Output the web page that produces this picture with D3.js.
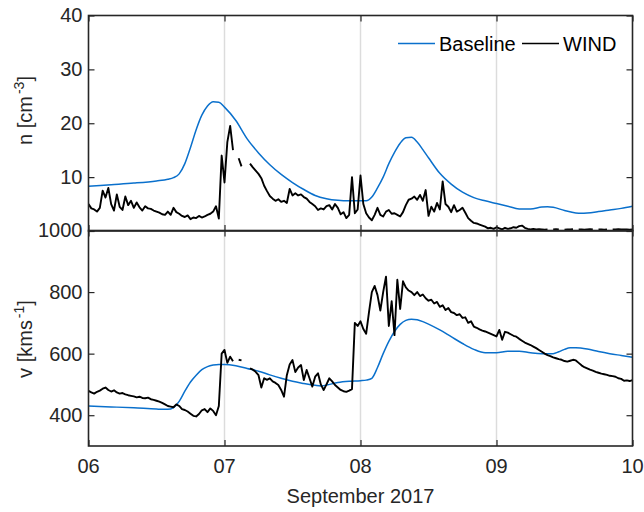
<!DOCTYPE html>
<html><head><meta charset="utf-8">
<script src="https://cdn.jsdelivr.net/npm/d3@7"></script>
<style>
body{margin:0;background:#fff}
text{font-family:"Liberation Sans",Arial,Helvetica,sans-serif}
</style>
</head><body>
<svg id="c" width="644" height="512"></svg>
<script>
// ---- tick labels / categories ----
const dayHours = [0, 24, 48, 72, 96];
const dayLabels = ["06", "07", "08", "09", "10"];
const nTicks = [0, 10, 20, 30, 40];
const vTicks = [400, 600, 800, 1000];
const xTitle = "September 2017";
const seriesNames = ["Baseline", "WIND"];

// ---- Baseline model (hours since 6 Sep 00:00) ----
const baseNHours = [0,4,8,12,14,15,16,17,18,19,20,21,22,23,24,26,28,30,32,34,36,38,40,42,44,46,48,49,50,51,52,53,54,55,56,57,58,59,60,62,64,66,68,70,72,74,76,78,80,81,82,84,86,87,88,90,92,94,96];
const baseN = [8.3,8.6,8.9,9.3,9.6,9.9,10.6,12.5,15.5,18.8,21.5,23.2,24.0,23.9,23.0,20.5,17.1,14.5,12.3,10.5,9.0,7.7,6.6,6.0,5.7,5.6,5.6,5.6,6.3,8.0,10.0,12.5,14.6,16.3,17.3,17.4,16.5,15.1,13.6,10.7,8.7,7.2,6.2,5.6,5.1,4.6,4.1,4.1,4.45,4.5,4.4,3.8,3.35,3.3,3.35,3.6,3.9,4.2,4.6];

const baseVHours = [0,4,8,12,14,15,16,17,18,19,20,21,22,23,24,26,28,30,32,34,36,38,40,41,42,44,46,48,49,50,51,52,53,54,55,56,57,58,59,60,62,64,66,68,70,72,74,76,78,80,82,83,84,85,86,88,90,92,94,96];
const baseV = [430,427,424,420,419,425,445,478,508,530,548,558,563,565,565,561,552,543,531,520,510,503,497,495,498,506,510,512,514,520,555,600,640,672,695,708,712,710,704,696,677,655,633,614,603,603,608,608,603,600,600,606,614,619,619,615,607,600,594,588];

// ---- WIND observations, one sample every 0.5 h from 6 Sep 00:00 ----
const windStepHours = 0.5;
const windN = [
 5.0,4.2,4.0,3.6,4.3,7.5,6.2,8.0,5.0,3.8,
 6.8,4.5,3.9,6.4,4.8,5.6,4.3,5.3,4.4,3.8,
 4.6,4.2,4.1,3.8,3.6,3.4,3.1,3.0,3.6,3.0,
 4.3,3.5,3.2,2.8,2.6,2.9,2.2,2.5,2.4,2.8,
 2.5,2.7,3.0,3.2,3.6,4.6,2.3,14.0,9.0,16.5,
 19.5,15.0,null,13.5,12.0,null,null,12.5,11.8,11.2,
 10.6,9.8,8.4,7.4,6.5,6.0,5.6,5.9,5.4,5.6,
 5.2,7.8,6.6,7.0,6.6,6.8,6.3,6.0,5.4,5.0,
 4.6,3.9,4.2,4.0,4.6,4.8,4.0,5.0,4.3,3.1,
 3.5,2.4,3.0,10.0,3.3,4.0,10.3,5.0,3.3,2.5,
 2.0,3.0,4.3,3.0,2.7,3.6,3.9,3.2,3.3,3.0,
 2.7,3.5,4.8,5.8,6.0,6.4,5.8,6.7,5.6,7.6,
 2.8,4.5,3.6,5.2,4.0,9.2,5.0,4.5,3.5,4.8,
 3.6,3.9,4.3,3.4,2.4,1.9,1.5,1.4,1.2,1.0,
 0.8,0.5,0.6,0.4,0.7,0.5,0.3,0.6,0.4,0.5,
 0.7,0.6,0.9,1.0,0.6,0.4,0.3,0.4,0.3,0.35,
 0.3,0.25,0.3,null,0.3,0.35,0.3,null,0.25,0.3,
 0.3,0.35,null,0.3,0.3,0.25,0.3,0.35,0.3,null,
 0.3,0.3,0.25,0.3,null,0.3,0.3,0.35,0.3,0.3,
 0.3,0.25,0.3
];
const windV = [
 479,474,470,476,480,486,490,482,477,481,
 474,470,472,468,465,463,461,458,460,456,
 455,457,452,450,447,444,440,435,430,428,
 426,435,430,420,417,412,405,398,396,404,
 416,420,410,422,414,400,430,600,612,570,
 590,575,null,580,578,null,null,552,548,541,
 530,490,520,515,520,510,505,498,482,460,
 530,565,579,540,555,563,514,547,520,493,
 525,536,500,482,500,520,510,498,490,482,
 478,476,480,485,700,690,705,680,665,735,
 800,820,790,740,800,850,690,770,660,840,
 745,835,815,805,800,790,800,787,792,780,
 772,775,763,768,752,757,742,748,735,732,
 725,728,716,718,700,705,688,684,679,675,
 672,668,664,660,656,677,645,671,668,663,
 658,655,648,642,636,632,628,623,618,612,
 606,600,595,592,588,585,582,580,576,574,
 577,580,578,570,562,556,552,548,545,541,
 538,535,533,531,528,527,525,520,518,512,
 513,511,514
];

// ---- drawing ----
const L = 88.5, R = 632.5, T1 = 15.5, B1 = 231, T2 = 230.5, B2 = 446;
const axisColor = "#262626", blue = "#0a70cc", gridColor = "#dcdcdc";
const FS = 20;

const svg = d3.select("#c");
const x = d3.scaleLinear().domain([0, 96]).range([L, R]);
const yN = d3.scaleLinear().domain([0, 40]).range([B1, T1]);
const yV = d3.scaleLinear().domain([300, 1000]).range([B2, T2]);

const windPts = (arr) => arr.map((v, i) => ({h: i * windStepHours, v}));

function grid(top, bottom) {
  svg.append("g").selectAll("line").data(dayHours.slice(1, -1)).join("line")
    .attr("x1", d => x(d)).attr("x2", d => x(d))
    .attr("y1", top).attr("y2", bottom)
    .attr("stroke", gridColor).attr("stroke-width", 1.5);
}

function frame(y, top, bottom, ticks, labelFn) {
  const g = svg.append("g");
  const styleAxis = sel => {
    sel.select(".domain").remove();
    sel.selectAll(".tick line").attr("stroke", axisColor).attr("stroke-width", 1.2);
    sel.selectAll("text").attr("fill", axisColor).style("font-size", FS + "px")
      .style("font-family", '"Liberation Sans",Arial,Helvetica,sans-serif');
  };
  g.append("g").attr("transform", `translate(${L},0)`)
    .call(d3.axisLeft(y).tickValues(ticks).tickSizeInner(-6).tickSizeOuter(0).tickPadding(6).tickFormat(labelFn))
    .call(styleAxis);
  g.append("g").attr("transform", `translate(${R},0)`)
    .call(d3.axisRight(y).tickValues(ticks).tickSizeInner(-6).tickSizeOuter(0).tickFormat(""))
    .call(styleAxis);
  g.append("g").attr("transform", `translate(0,${top})`)
    .call(d3.axisTop(x).tickValues(dayHours).tickSizeInner(-6).tickSizeOuter(0).tickFormat(""))
    .call(styleAxis);
  g.append("g").attr("transform", `translate(0,${bottom})`)
    .call(d3.axisBottom(x).tickValues(dayHours).tickSizeInner(-6).tickSizeOuter(0).tickFormat(""))
    .call(styleAxis);
  g.append("rect").attr("x", L).attr("y", top).attr("width", R - L).attr("height", bottom - top)
    .attr("fill", "none").attr("stroke", axisColor).attr("stroke-width", 1.6);
  return g;
}

grid(T1, B1);
grid(T2, B2);

const defs = svg.append("defs");
defs.append("clipPath").attr("id", "clipTop").append("rect").attr("x", L).attr("y", T1).attr("width", R - L).attr("height", B1 - T1);
defs.append("clipPath").attr("id", "clipBot").append("rect").attr("x", L).attr("y", T2).attr("width", R - L).attr("height", B2 - T2);

const lineBaseN = d3.line().x(d => x(d.h)).y(d => yN(d.v)).curve(d3.curveMonotoneX);
const lineBaseV = d3.line().x(d => x(d.h)).y(d => yV(d.v)).curve(d3.curveMonotoneX);
const lineWindN = d3.line().defined(d => d.v != null).x(d => x(d.h)).y(d => yN(d.v));
const lineWindV = d3.line().defined(d => d.v != null).x(d => x(d.h)).y(d => yV(d.v));

const gTop = svg.append("g").attr("clip-path", "url(#clipTop)");
gTop.append("path").datum(baseNHours.map((h, i) => ({h, v: baseN[i]})))
  .attr("d", lineBaseN).attr("fill", "none").attr("stroke", blue).attr("stroke-width", 1.5);
gTop.append("path").datum(windPts(windN))
  .attr("d", lineWindN).attr("fill", "none").attr("stroke", "#000").attr("stroke-width", 1.9)
  .attr("stroke-linejoin", "round");

const gBot = svg.append("g").attr("clip-path", "url(#clipBot)");
gBot.append("path").datum(baseVHours.map((h, i) => ({h, v: baseV[i]})))
  .attr("d", lineBaseV).attr("fill", "none").attr("stroke", blue).attr("stroke-width", 1.5);
gBot.append("path").datum(windPts(windV))
  .attr("d", lineWindV).attr("fill", "none").attr("stroke", "#000").attr("stroke-width", 1.9)
  .attr("stroke-linejoin", "round");

frame(yN, T1, B1, nTicks, d => d === 0 ? "" : d);
frame(yV, T2, B2, vTicks, d => d);

svg.append("g").selectAll("text").data(dayHours).join("text")
  .attr("x", d => x(d)).attr("y", 473).attr("text-anchor", "middle")
  .attr("fill", axisColor).style("font-size", FS + "px")
  .text((d, i) => dayLabels[i]);

svg.append("text").attr("x", (L + R) / 2).attr("y", 503).attr("text-anchor", "middle")
  .attr("fill", axisColor).style("font-size", FS + "px").text(xTitle);

function yTitle(cx, cy, pre, sup, post) {
  const t = svg.append("text").attr("transform", `translate(${cx},${cy}) rotate(-90)`)
    .attr("text-anchor", "middle").attr("fill", axisColor).style("font-size", FS + "px");
  t.append("tspan").text(pre);
  t.append("tspan").attr("dx", 2).attr("dy", -8).style("font-size", "14px").text(sup);
  t.append("tspan").attr("dy", 8).text(post);
}
yTitle(32, 110.5, "n [cm", "-3", "]");
yTitle(32, 339, "v [kms", "-1", "]");

const legend = svg.append("g");
const legItems = [
  {name: seriesNames[0], color: blue, x0: 398},
  {name: seriesNames[1], color: "#000", x0: 522}
];
legItems.forEach(it => {
  legend.append("line").attr("x1", it.x0).attr("x2", it.x0 + 37).attr("y1", 43.5).attr("y2", 43.5)
    .attr("stroke", it.color).attr("stroke-width", 1.5);
  legend.append("text").attr("x", it.x0 + 41).attr("y", 50.5).attr("fill", "#000")
    .style("font-size", FS + "px").text(it.name);
});
</script>
</body></html>
